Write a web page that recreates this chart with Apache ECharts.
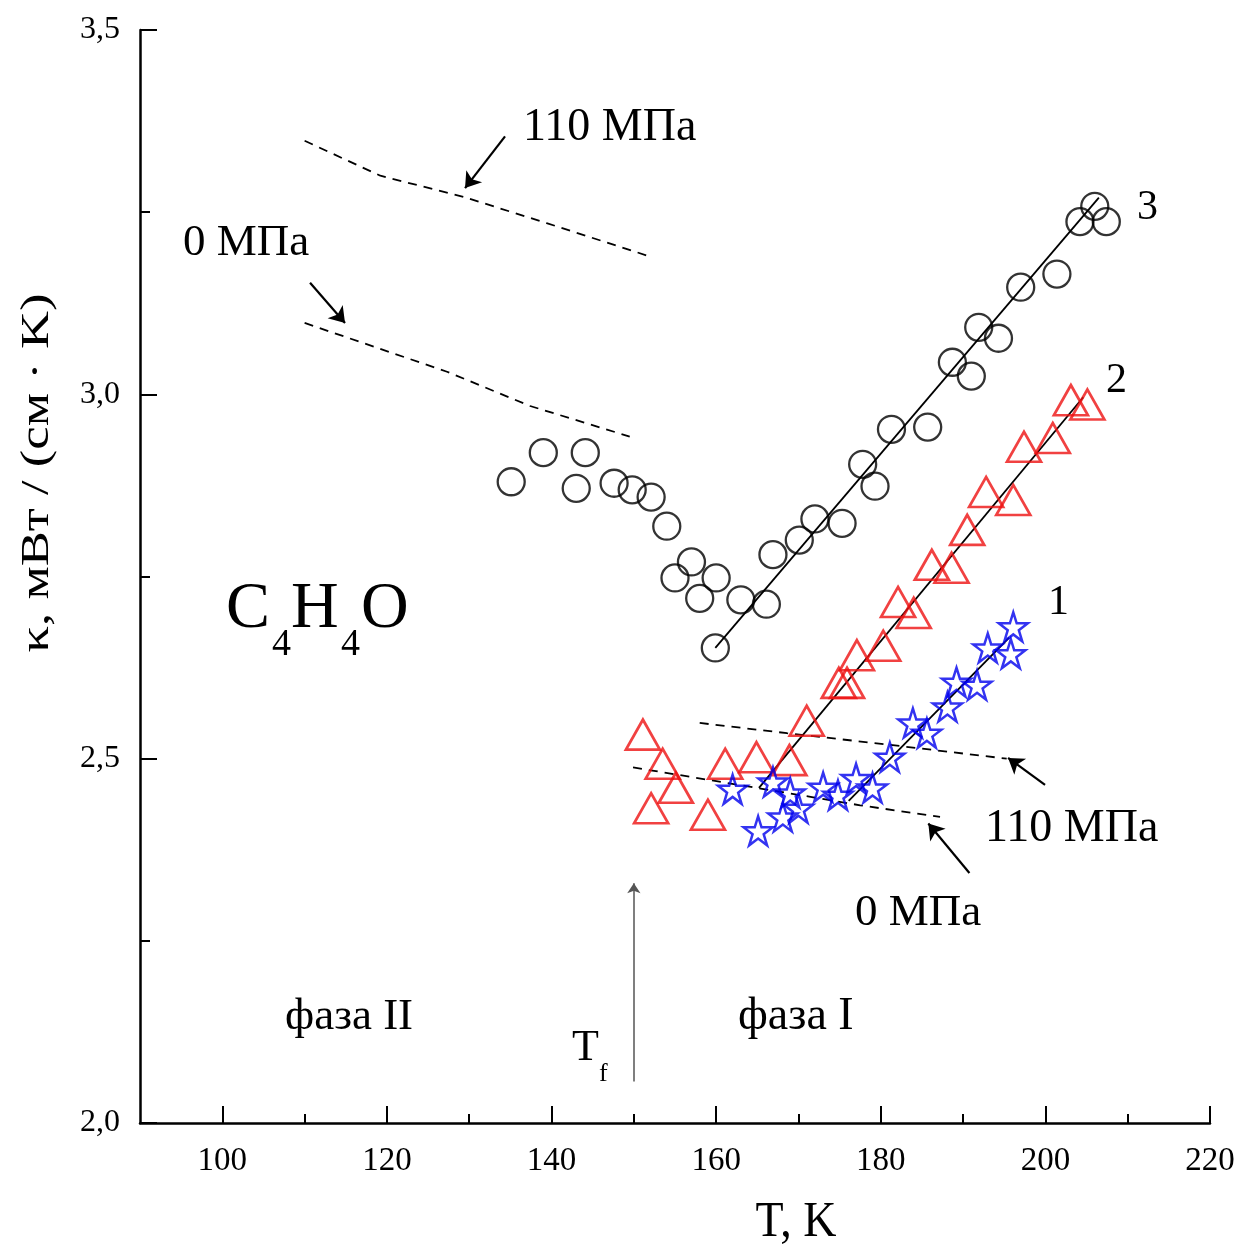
<!DOCTYPE html>
<html>
<head>
<meta charset="utf-8">
<script src="https://cdn.jsdelivr.net/npm/echarts@6/dist/echarts.min.js"></script>
<style>html,body{margin:0;padding:0;background:#fff}#c{width:1241px;height:1245px}</style>
</head>
<body>
<div id="c"></div>
<script>
// ---- data (T in K, kappa in mW/(cm K)) ----
const circles3 = [[135.1,2.880],[139.0,2.920],[143.0,2.871],[144.1,2.920],[147.6,2.878],[149.8,2.869],[152.1,2.859],[154.0,2.819],[155.0,2.748],[157.0,2.770],[158.0,2.720],[160.0,2.748],[159.9,2.652],[163.0,2.718],[166.1,2.712],[166.9,2.780],[170.1,2.800],[172.0,2.829],[175.3,2.823],[177.8,2.904],[179.3,2.874],[181.3,2.952],[185.7,2.955],[188.7,3.044],[191.0,3.025],[191.9,3.092],[194.3,3.077],[197.0,3.147],[201.4,3.165],[204.2,3.237],[206.0,3.258],[207.4,3.237]];
const triangles2 = [[151.1,2.533],[153.5,2.493],[155.1,2.460],[152.1,2.432],[159.0,2.423],[161.1,2.493],[164.9,2.502],[168.9,2.498],[171.0,2.552],[174.9,2.604],[175.9,2.604],[177.1,2.642],[180.3,2.655],[182.1,2.715],[184.0,2.700],[186.2,2.766],[188.6,2.762],[190.5,2.814],[192.8,2.866],[196.1,2.855],[197.4,2.928],[200.9,2.940],[203.1,2.992],[205.1,2.986]];
const stars1 = [[162.0,2.458],[166.9,2.468],[169.0,2.453],[170.0,2.432],[168.1,2.420],[165.1,2.401],[173.0,2.461],[174.8,2.450],[177.0,2.473],[179.0,2.460],[181.1,2.502],[183.9,2.549],[185.6,2.535],[188.1,2.571],[189.2,2.605],[191.7,2.601],[193.0,2.652],[195.8,2.644],[196.1,2.681]];
const fit3 = [[159.9,2.652],[206.5,3.270]];
const fit2 = [[165.2,2.460],[204.6,2.996]];
const fit1 = [[176.1,2.442],[195.6,2.666]];
const dash110Left = [[110.0,3.348],[119.2,3.300],[129.3,3.271],[139.4,3.235],[152.0,3.189]];
const dash0Left = [[110.0,3.098],[127.3,3.031],[137.4,2.984],[149.5,2.942]];
const dash110Right = [[158.0,2.549],[168.6,2.535],[181.1,2.519],[195.3,2.500]];
const dash0Right = [[149.9,2.488],[164.9,2.460],[171.8,2.447],[177.5,2.436],[187.2,2.420]];
const arrowsBlack = [
  [[134.35,3.354],[129.49,3.283]],
  [[110.66,3.153],[114.91,3.098]],
  [[199.96,2.464],[195.47,2.501]],
  [[190.77,2.343],[185.78,2.411]]
];
const arrowTf = [[150,2.057],[150,2.329]];
const xTicks = [100,120,140,160,180,200,220];
const xMinorTicks = [110,130,150,170,190,210];
const yTicks = [2.0,2.5,3.0,3.5];

const FONT = '"Liberation Serif","Times New Roman",serif';
const STAR = 'path://M50,2 L61.2,36.3 L97.6,36.3 L68.2,57.6 L79.4,91.9 L50,70.7 L20.6,91.9 L31.8,57.6 L2.4,36.3 L38.8,36.3 Z';

const chart = echarts.init(document.getElementById('c'), null, {renderer:'canvas'});

const dashStyle = {color:'#000', width:1.8, type:[9,7]};
function dashSeries(d){return {type:'line', data:d, symbol:'none', smooth:false, lineStyle:dashStyle, z:2, silent:true};}
function fitSeries(d){return {type:'line', data:d, symbol:'none', lineStyle:{color:'#000', width:1.8}, z:3, silent:true};}
function txt(x,y,t,size,extra){return Object.assign({type:'text', x:x, y:y, style:{text:t, font:size+'px '+FONT, fill:'#000', textAlign:'left', textVerticalAlign:'middle'}}, extra||{});}

const option = {
  animation:false,
  backgroundColor:'#fff',
  grid:{left:140, right:31, top:30, bottom:122},
  xAxis:[{
    type:'value', min:90, max:220, interval:10,
    axisLine:{show:true, lineStyle:{color:'#000', width:2.5}},
    axisTick:{show:true, inside:true, length:17, lineStyle:{color:'#000', width:2}, customValues:xTicks},
    axisLabel:{show:true, margin:22, color:'#000', fontFamily:FONT, fontSize:33, customValues:xTicks},
    splitLine:{show:false}
  },{
    type:'value', min:90, max:220, interval:10, position:'bottom',
    axisLine:{show:false},
    axisTick:{show:true, inside:true, length:9, lineStyle:{color:'#000', width:2}, customValues:xMinorTicks},
    axisLabel:{show:false},
    splitLine:{show:false}
  }],
  yAxis:[{
    type:'value', min:2.0, max:3.5, interval:0.5,
    axisLine:{show:true, lineStyle:{color:'#000', width:2.5}},
    axisTick:{show:true, inside:true, length:17, lineStyle:{color:'#000', width:2}},
    minorTick:{show:true, splitNumber:2, length:10, lineStyle:{color:'#000', width:2}},
    axisLabel:{show:true, margin:20, color:'#000', fontFamily:FONT, fontSize:32,
      formatter:v=>v.toFixed(1).replace('.',',')},
    splitLine:{show:false}
  }],
  series:[
    dashSeries(dash110Left), dashSeries(dash0Left), dashSeries(dash110Right), dashSeries(dash0Right),
    fitSeries(fit3), fitSeries(fit2), fitSeries(fit1),
    {type:'scatter', data:circles3, symbol:'circle', symbolSize:27,
     itemStyle:{color:'rgba(0,0,0,0)', borderColor:'#000', borderWidth:2.3}, z:4},
    {type:'scatter', data:triangles2, symbol:'triangle', symbolSize:[34,30],
     itemStyle:{color:'rgba(0,0,0,0)', borderColor:'#ee1111', borderWidth:2.7}, z:4},
    {type:'scatter', data:stars1, symbol:STAR, symbolSize:29,
     itemStyle:{color:'rgba(0,0,0,0)', borderColor:'#0000ee', borderWidth:2.5}, z:5},
    {type:'lines', coordinateSystem:'cartesian2d', xAxisIndex:0, yAxisIndex:0,
     data:arrowsBlack.map(c=>({coords:c})), symbol:['none','arrow'], symbolSize:[0,15],
     lineStyle:{color:'#000', width:2.2, opacity:1}, z:6, silent:true},
    {type:'lines', coordinateSystem:'cartesian2d', xAxisIndex:0, yAxisIndex:0,
     data:[{coords:arrowTf}], symbol:['none','arrow'], symbolSize:[0,10],
     lineStyle:{color:'#555', width:1.5, opacity:1}, z:6, silent:true}
  ],
  graphic:[
    {type:'text', x:38, y:473, rotation:Math.PI/2, scaleX:1.35,
     style:{text:'κ, мВт / (см · K)', font:'39px '+FONT, fill:'#000', textAlign:'center', textVerticalAlign:'middle'}},
    {type:'text', x:796, y:1222, scaleY:1.12,
     style:{text:'T, K', font:'46px '+FONT, fill:'#000', textAlign:'center', textVerticalAlign:'middle'}},
    txt(523,128,'110 МПа',46),
    txt(183,243,'0 МПа',45),
    txt(985,829,'110 МПа',46),
    txt(855,913,'0 МПа',45),
    txt(1137,208,'3',42),
    txt(1106,381,'2',42),
    txt(1048,603,'1',42),
    txt(285,1017,'фаза II',45),
    txt(738,1017,'фаза I',46),
    txt(226,610,'C',66),
    txt(272,645,'4',38),
    txt(291,610,'H',66),
    txt(341,645,'4',38),
    txt(361,610,'O',66),
    txt(572,1048,'T',44),
    txt(599,1074,'f',26)
  ]
};
chart.setOption(option);
</script>
</body>
</html>
